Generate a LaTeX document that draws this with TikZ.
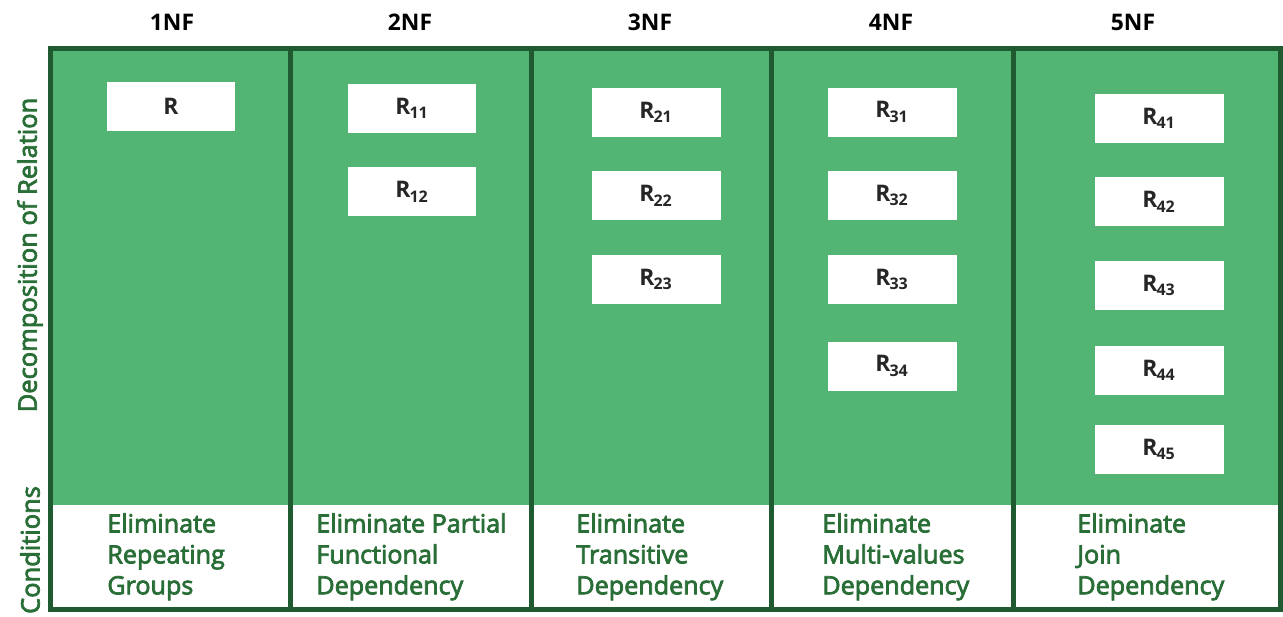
\documentclass[tikz,border=0pt]{standalone}
\usepackage{fontspec}
\setmainfont{Open Sans}
\newfontfamily\semibold[FakeBold=3]{Open Sans}
\usetikzlibrary{positioning}
\definecolor{Frame}{HTML}{1F5A30}
\definecolor{Leaf}{HTML}{52B573}
\definecolor{Ink}{HTML}{2A6E37}
\newcommand{\rel}[1]{R\kern-.5pt\textsubscript{#1}}
\tikzset{
  nfhead/.style={font=\bfseries\fontsize{13}{15}\selectfont,text=black},
  relbox/.style={fill=white,minimum width=2.58cm,minimum height=.98cm,inner sep=0pt,font=\bfseries\fontsize{13}{15}\selectfont,text=black!85},
  cond/.style={text=Ink,align=left,anchor=north west,inner sep=0pt,font=\semibold\fontsize{14.3}{17.6}\selectfont},
  side/.style={text=Ink,rotate=90,font=\semibold\fontsize{14.5}{16}\selectfont},
  framerule/.style={draw=Frame,line width=.1cm}
}

\begin{document}
\begin{tikzpicture}[x=.02cm,y=-.02cm,node distance=.68cm]
        \useasboundingbox (0,0) rectangle (1283,616);
        % table body
        \fill[Leaf] (50,48) rectangle (1280,505);
        \draw[framerule] (50,48) rectangle (1280,609);
        \foreach \x in {290,531,771,1013}
          \draw[framerule] (\x,48) -- (\x,609);
        % column heads
        \node[nfhead] (h1) at (172,22) {1NF};
        \node[nfhead] (h2) at (410,22) {2NF};
        \node[nfhead] (h3) at (650,22) {3NF};
        \node[nfhead] (h4) at (891,22) {4NF};
        \node[nfhead] (h5) at (1133,22) {5NF};
        % row labels
        \node[side] (decomp) at (30,255) {Decomposition of Relation};
        \node[side] (condlbl) at (30,550) {Conditions};
        % relations
        \node[relbox] (r) at (171,106) {R};
        \node[relbox] (r11) at (412,108) {\rel{11}};
        \node[relbox,below=of r11] (r12) {\rel{12}};
        \node[relbox] (r21) at (656,112) {\rel{21}};
        \node[relbox,below=of r21] (r22) {\rel{22}};
        \node[relbox,below=of r22] (r23) {\rel{23}};
        \node[relbox] (r31) at (892,112) {\rel{31}};
        \node[relbox,below=of r31] (r32) {\rel{32}};
        \node[relbox,below=of r32] (r33) {\rel{33}};
        \node[relbox,below=.74cm of r33] (r34) {\rel{34}};
        \node[relbox] (r41) at (1159,118) {\rel{41}};
        \node[relbox,below=of r41] (r42) {\rel{42}};
        \node[relbox,below=of r42] (r43) {\rel{43}};
        \node[relbox,below=.7cm of r43] (r44) {\rel{44}};
        \node[relbox,below=.6cm of r44] (r45) {\rel{45}};
        % conditions
        \node[cond] (c1) at (107,513) {Eliminate\\Repeating\\Groups};
        \node[cond] (c2) at (316,513) {Eliminate Partial\\Functional\\Dependency};
        \node[cond] (c3) at (576,513) {Eliminate\\Transitive\\Dependency};
        \node[cond] (c4) at (822,513) {Eliminate\\Multi-values\\Dependency};
        \node[cond] (c5) at (1077,513) {Eliminate\\Join\\Dependency};
      \end{tikzpicture}
\end{document}
